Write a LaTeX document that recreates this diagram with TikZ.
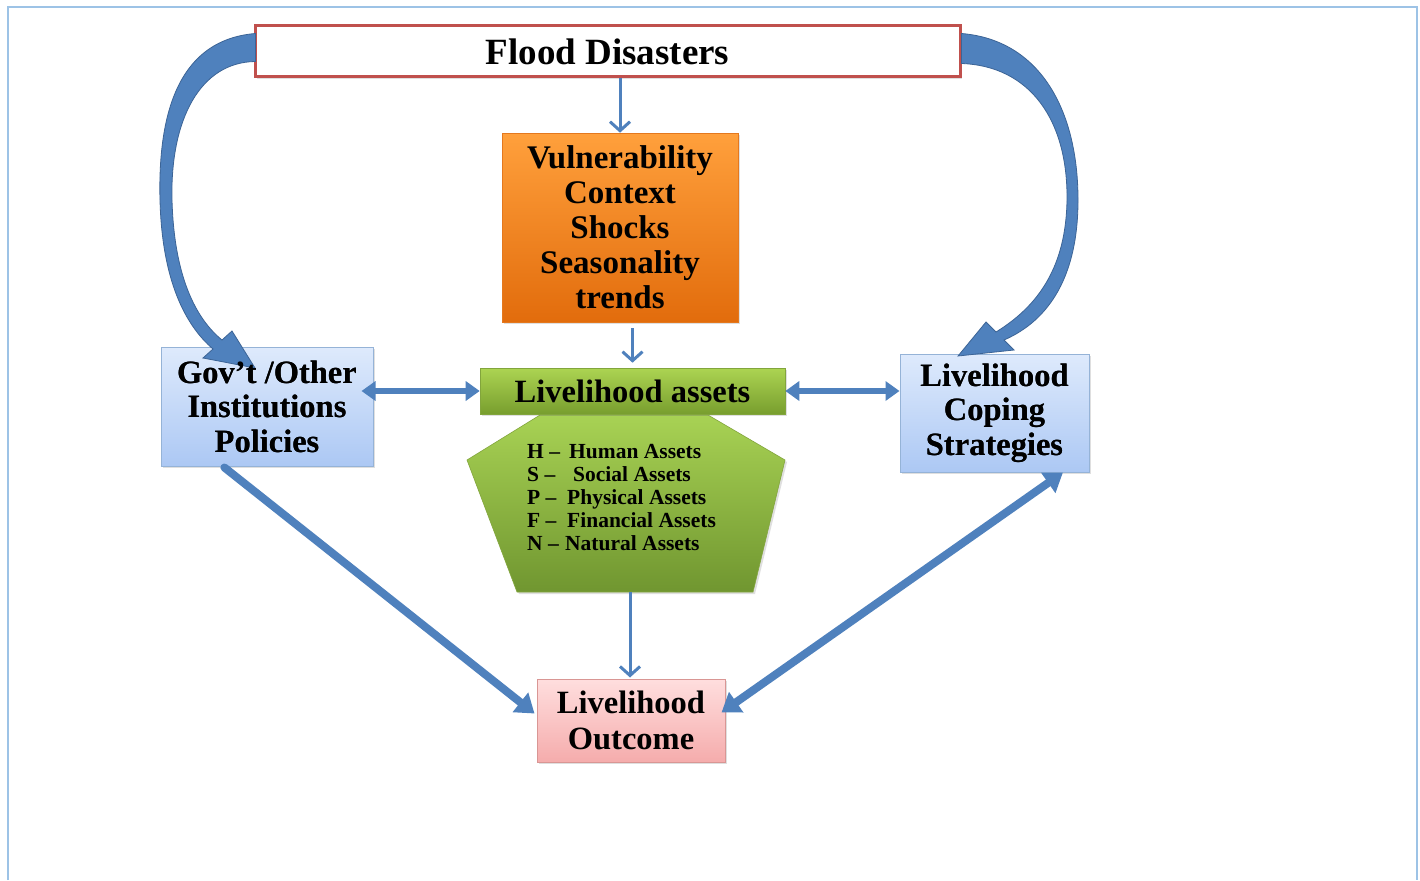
\documentclass[tikz,border=0pt]{standalone}
\usepackage{fontspec}
\setmainfont{Liberation Serif}
\usetikzlibrary{arrows.meta,shadows,calc}
\definecolor{arrowblue}{RGB}{79,129,189}
\definecolor{arrowedge}{RGB}{60,100,150}
\definecolor{framecol}{RGB}{157,195,230}
\definecolor{floodred}{RGB}{192,80,77}
\definecolor{orangetop}{RGB}{255,160,60}
\definecolor{orangebot}{RGB}{226,108,12}
\definecolor{orangeedge}{RGB}{228,120,30}
\definecolor{greentop}{RGB}{172,212,82}
\definecolor{greenbot}{RGB}{120,158,46}
\definecolor{greenedge}{RGB}{130,165,60}
\definecolor{pentop}{RGB}{168,210,84}
\definecolor{penbot}{RGB}{112,150,48}
\definecolor{bluetop}{RGB}{222,234,252}
\definecolor{bluebot}{RGB}{172,200,244}
\definecolor{blueedge}{RGB}{149,179,215}
\definecolor{pinktop}{RGB}{255,222,222}
\definecolor{pinkbot}{RGB}{245,172,172}
\definecolor{pinkedge}{RGB}{217,150,148}
\tikzset{
  boxbase/.style={rectangle, inner sep=0pt, align=center, text=black,
    drop shadow={opacity=0.25, shadow xshift=2pt, shadow yshift=-2pt}},
  bigtext/.style={font=\fontsize{32.5}{34.5}\selectfont\bfseries},
  thinarrow/.style={draw=arrowblue, line width=3pt, -{Straight Barb[length=9pt,width=20pt]}},
  dblarrow/.style={draw=arrowblue, line width=6pt, {Triangle[width=19pt,length=14pt]}-{Triangle[width=19pt,length=14pt]}},
  diagarrow/.style={draw=arrowblue, line width=8pt, -{Triangle[width=24pt,length=18pt]}},
  curvedarrow/.style={fill=arrowblue, draw=arrowedge, line width=0.8pt}
}
\begin{document}
\begin{tikzpicture}[x=1pt,y=-1pt]
\useasboundingbox (0,0) rectangle (1420,880);
\fill[white] (0,0) rectangle (1420,880);
% outer frame
\draw[framecol, line width=2pt] (8,880) -- (8,7) -- (1417,7) -- (1417,880);

% pentagon (assets list)
\coordinate (penTL) at (540,415);
\coordinate (penTR) at (708,415);
\coordinate (penR) at (785,460);
\coordinate (penBR) at (753,592);
\coordinate (penBL) at (517,592);
\coordinate (penL) at (467,460);
\coordinate (penbottom) at (630,592);
\shade[top color=pentop, bottom color=penbot, draw=greenedge, line width=0.6pt,
  drop shadow={opacity=0.25, shadow xshift=2pt, shadow yshift=-2pt}]
  (penTL) -- (penTR) -- (penR) -- (penBR) -- (penBL) -- (penL) -- cycle;
\node[anchor=north west, align=left, inner sep=0pt,
  font=\fontsize{21.5}{23}\selectfont\bfseries] (assetlist) at (527,444)
  {\makebox[42pt][l]{H –}Human Assets\\
   \makebox[46pt][l]{S –}Social Assets\\
   \makebox[40pt][l]{P –}Physical Assets\\
   \makebox[40pt][l]{F –}Financial Assets\\
   \makebox[38pt][l]{N –}Natural Assets};

% nodes
\node[boxbase, draw=floodred, line width=3pt, fill=white,
  minimum width=705pt, minimum height=51pt,
  font=\fontsize{37}{40}\selectfont\bfseries] (flood) at (607.5,51.5) {Flood Disasters};
\node[boxbase, draw=orangeedge, line width=0.6pt, top color=orangetop, bottom color=orangebot,
  minimum width=236pt, minimum height=189pt,
  font=\fontsize{33}{35}\selectfont\bfseries] (vuln) at (620,227.5)
  {Vulnerability\\Context\\Shocks\\Seasonality\\trends};
\node[boxbase, draw=greenedge, line width=0.6pt, top color=greentop, bottom color=greenbot,
  minimum width=305pt, minimum height=46pt, bigtext] (assets) at (632.5,391) {Livelihood assets};
\node[boxbase, draw=blueedge, line width=1pt, top color=bluetop, bottom color=bluebot,
  minimum width=212pt, minimum height=119pt, bigtext] (gov) at (267,406.5)
  {Gov’t /Other\\Institutions\\Policies};
\node[boxbase, draw=blueedge, line width=1pt, top color=bluetop, bottom color=bluebot,
  minimum width=189pt, minimum height=118pt, bigtext] (coping) at (994.5,413)
  {Livelihood\\Coping\\Strategies};
\node[boxbase, draw=pinkedge, line width=1pt, top color=pinktop, bottom color=pinkbot,
  minimum width=188pt, minimum height=83pt, font=\fontsize{32.5}{36}\selectfont\bfseries] (outcome) at (631,720.5)
  {Livelihood\\Outcome};

% thin vertical arrows
\draw[thinarrow] (flood.south -| vuln.north) -- (vuln.north);
\draw[thinarrow, shorten <=6pt, shorten >=5pt] (vuln.south -| assets.north) -- (assets.north);
\draw[thinarrow, shorten >=1pt] (penbottom) -- (penbottom |- outcome.north);

% horizontal double arrows
\draw[dblarrow, shorten <=-12pt] (gov.east |- assets.west) -- (assets.west);
\draw[dblarrow] (assets.east) -- (coping.west |- assets.east);

% diagonal arrows
\coordinate (govfoot) at ($(gov.south west)!0.30!(gov.south east)+(0,1)$);
\coordinate (copfoot) at ($(coping.south west)!0.86!(coping.south east)$);
\draw[diagarrow, line cap=round] (govfoot) -- ([yshift=7pt,xshift=-2pt]outcome.west);
\draw[diagarrow, {Triangle[width=24pt,length=18pt]}-{Triangle[width=24pt,length=18pt]}]
  ([yshift=8pt,xshift=-4pt]outcome.east) -- (copfoot);

% curved block arrows from Flood Disasters
\filldraw[curvedarrow]
  ($(flood.north west)+(2,9)$)
  .. controls (175,40) and (158,120) .. (160,200)
  .. controls (162,280) and (185,325) .. (213,349)
  -- (203,358) -- (255,368) -- (232,331) -- (222,340)
  .. controls (195,318) and (174,275) .. (172,200)
  .. controls (170,120) and (200,62) .. ($(flood.south west)+(2,-17)$)
  -- cycle;
\filldraw[curvedarrow]
  ($(flood.north east)+(0,9)$)
  .. controls (1040,40) and (1078,110) .. (1078,200)
  .. controls (1078,275) and (1050,320) .. (1004,340)
  -- (1014,350) -- (958,356) -- (986,322) -- (996,332)
  .. controls (1040,305) and (1066,265) .. (1067,200)
  .. controls (1068,120) and (1030,66) .. ($(flood.south east)+(0,-15)$)
  -- cycle;
% redraw box text over arrow heads
\node[bigtext, align=center] at (gov.center) {Gov’t /Other\\Institutions\\Policies};
\node[bigtext, align=center] at (coping.center) {Livelihood\\Coping\\Strategies};
\end{tikzpicture}
\end{document}
